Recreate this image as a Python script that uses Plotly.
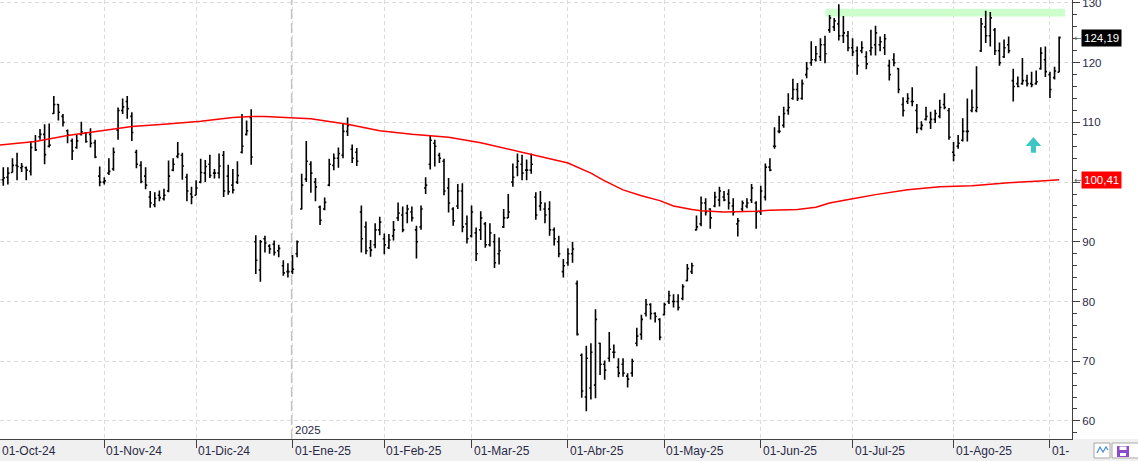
import pandas as pd
import plotly.graph_objects as go

# ---------------- categories: US trading days shown on the chart ----------------
holidays = ['2024-11-28', '2024-12-25', '2025-01-01', '2025-01-09', '2025-01-20',
            '2025-02-17', '2025-04-18', '2025-05-26', '2025-06-19', '2025-07-04', '2025-09-01']
cbd = pd.offsets.CustomBusinessDay(holidays=holidays)
dates = [d.strftime('%Y-%m-%d') for d in pd.date_range('2024-10-01', '2025-09-04', freq=cbd)]

month_starts = ['2024-10-01', '2024-11-01', '2024-12-02', '2025-01-02', '2025-02-03', '2025-03-03',
                '2025-04-01', '2025-05-01', '2025-06-02', '2025-07-01', '2025-08-01', '2025-09-02']
month_labels = ['01-Oct-24', '01-Nov-24', '01-Dic-24', '01-Ene-25', '01-Feb-25', '01-Mar-25',
                '01-Abr-25', '01-May-25', '01-Jun-25', '01-Jul-25', '01-Ago-25', '01-']
year_label = '2025'
year_start = '2025-01-02'

y_ticks = [60, 70, 80, 90, 100, 110, 120, 130]

# ---------------- OHLC values ----------------
opens = [
    101.2, 100.4, 100.8, 101.6, 102.8, 102.4, 102.4, 101.8, 106.8, 107.6,
    108.0, 106.0, 111.5, 113.0, 111.0, 108.6, 106.9, 105.8, 108.0, 108.2,
    108.0, 106.6, 101.0, 100.0, 101.5, 102.2, 108.7, 112.0, 113.5, 111.0,
    105.0, 102.8, 101.0, 97.5, 96.2, 97.8, 97.2, 98.5, 102.0, 104.3,
    104.5, 100.8, 98.0, 97.8, 100.0, 101.5, 103.0, 101.5, 101.5, 104.5,
    101.0, 99.5, 100.0, 105.0, 108.0, 110.8, 90.0, 85.3, 90.5, 89.3,
    89.6, 88.5, 86.0, 85.0, 85.0, 88.0, 95.5, 100.5, 103.0, 100.0,
    95.8, 95.5, 99.5, 102.8, 104.0, 104.5, 108.5, 105.5, 105.0, 95.0,
    92.5, 89.0, 89.5, 92.0, 90.5, 89.0, 91.0, 94.0, 94.5, 94.8,
    95.0, 92.0, 92.5, 99.0, 103.0, 106.5, 104.5, 103.5, 99.0, 95.5,
    96.0, 98.5, 93.0, 91.0, 91.5, 92.0, 93.0, 89.5, 90.0, 88.0,
    92.5, 94.0, 100.0, 102.5, 103.0, 102.0, 102.0, 97.5, 96.0, 95.5,
    95.5, 92.0, 90.0, 85.0, 86.5, 88.0, 83.0, 71.0, 64.0, 65.5,
    66.0, 73.0, 69.5, 70.5, 71.5, 69.0, 69.5, 67.5, 68.0, 73.0,
    74.5, 78.0, 79.5, 78.0, 77.0, 77.8, 80.0, 80.0, 80.0, 80.5,
    83.5, 85.0, 92.0, 93.0, 96.5, 95.5, 96.0, 97.0, 97.5, 98.0,
    96.0, 93.0, 95.5, 96.0, 97.0, 96.5, 95.0, 97.5, 102.5, 106.0,
    108.5, 109.5, 112.0, 114.0, 115.5, 114.0, 118.0, 120.0, 120.5, 121.0,
    123.0, 125.5, 126.0, 126.5, 124.5, 124.5, 122.5, 122.0, 122.0, 121.0,
    122.0, 123.0, 123.0, 122.5, 119.5, 120.5, 119.0, 113.0, 113.5, 113.5,
    112.0, 109.0, 110.5, 110.0, 110.5, 111.0, 113.0, 112.0, 105.0, 106.0,
    107.0, 108.5, 112.0, 112.0, 122.0, 126.0, 124.5, 125.5, 122.0, 121.0,
    123.0, 117.0, 116.5, 116.5, 117.0, 116.5, 116.5, 119.0, 120.5, 118.0,
    117.5, 118.4]
highs = [
    102.0, 102.5, 102.5, 104.0, 104.9, 103.2, 102.6, 106.9, 107.9, 108.9,
    109.7, 109.8, 114.4, 113.1, 111.4, 108.8, 107.3, 107.9, 110.1, 108.4,
    109.0, 107.1, 102.6, 100.8, 104.0, 105.8, 112.5, 114.0, 114.4, 111.7,
    105.4, 103.5, 102.5, 98.5, 98.3, 98.6, 98.9, 103.6, 104.0, 106.7,
    104.9, 101.4, 99.2, 100.3, 103.9, 103.7, 104.6, 102.2, 104.8, 105.2,
    102.9, 102.2, 103.5, 111.4, 110.3, 112.2, 91.1, 90.3, 91.0, 89.6,
    90.2, 89.5, 86.9, 86.4, 87.8, 90.2, 101.4, 106.9, 103.5, 100.7,
    96.1, 97.4, 103.9, 104.8, 105.8, 109.8, 110.8, 106.3, 105.7, 96.1,
    93.4, 90.3, 93.1, 94.2, 91.4, 91.3, 93.5, 96.6, 95.9, 96.2,
    95.9, 92.7, 96.1, 100.8, 107.9, 107.1, 104.9, 103.9, 100.7, 95.8,
    99.7, 99.8, 94.4, 96.1, 92.4, 95.1, 93.3, 93.1, 91.3, 90.7,
    95.5, 98.0, 103.1, 104.8, 104.6, 103.8, 104.8, 98.3, 98.5, 96.6,
    96.8, 92.4, 91.0, 87.1, 88.9, 90.0, 83.5, 71.3, 72.6, 73.0,
    78.7, 73.1, 70.1, 74.9, 72.8, 70.5, 70.5, 68.0, 70.4, 75.6,
    77.8, 80.4, 79.7, 78.2, 77.2, 79.8, 81.8, 81.2, 81.2, 82.9,
    86.3, 86.5, 94.4, 97.6, 97.3, 95.6, 98.4, 99.2, 98.5, 98.8,
    97.3, 94.0, 96.9, 97.3, 99.7, 96.8, 99.4, 103.1, 104.0, 109.2,
    111.1, 112.6, 114.9, 117.3, 116.6, 117.2, 120.1, 123.6, 122.8, 124.1,
    124.5, 128.0, 127.5, 129.8, 127.8, 125.3, 124.1, 122.7, 123.6, 121.9,
    125.5, 126.2, 124.4, 124.8, 120.5, 121.6, 119.1, 114.2, 114.9, 115.9,
    113.1, 110.2, 112.6, 111.8, 112.1, 113.8, 114.9, 112.4, 106.7, 107.9,
    110.7, 114.0, 115.5, 119.4, 127.5, 128.7, 128.5, 125.8, 123.4, 123.9,
    124.4, 119.0, 117.7, 120.8, 118.0, 118.5, 118.7, 122.6, 122.7, 118.5,
    119.3, 124.4]
lows = [
    99.3, 99.4, 99.6, 101.6, 100.3, 101.7, 100.3, 101.1, 105.2, 107.1,
    103.0, 105.8, 111.4, 110.3, 109.3, 106.5, 103.7, 105.6, 107.8, 106.6,
    105.8, 104.0, 99.3, 99.6, 101.2, 101.9, 107.1, 111.4, 110.6, 106.9,
    102.3, 99.8, 98.8, 95.7, 95.8, 96.8, 96.9, 98.3, 101.8, 104.0,
    100.4, 96.8, 96.3, 97.8, 99.8, 100.0, 100.7, 100.6, 100.6, 97.5,
    97.9, 98.1, 99.7, 104.8, 107.8, 102.9, 84.6, 83.3, 88.2, 88.0,
    87.7, 87.4, 84.3, 84.0, 84.6, 87.4, 95.4, 100.0, 98.2, 96.8,
    92.8, 95.3, 99.3, 102.0, 102.4, 104.0, 107.7, 103.2, 102.7, 88.2,
    87.9, 87.5, 88.9, 91.1, 87.9, 88.8, 90.2, 93.5, 91.6, 93.1,
    93.4, 87.2, 92.0, 98.0, 102.1, 102.6, 103.2, 97.8, 94.9, 92.7,
    95.5, 91.6, 89.7, 90.7, 86.8, 90.3, 89.0, 89.2, 85.6, 86.2,
    92.3, 94.0, 99.2, 101.0, 100.3, 100.3, 101.4, 93.7, 95.2, 93.1,
    91.0, 89.4, 87.4, 84.0, 86.0, 86.5, 74.3, 63.9, 61.6, 63.6,
    63.8, 67.7, 66.9, 69.9, 70.5, 67.3, 67.4, 65.6, 67.4, 72.5,
    73.6, 77.5, 77.0, 76.5, 73.5, 77.7, 79.6, 79.0, 78.5, 80.2,
    83.4, 84.6, 91.9, 92.6, 94.4, 92.2, 95.8, 95.9, 96.8, 95.4,
    94.4, 90.9, 95.1, 95.6, 96.5, 92.2, 94.5, 96.9, 101.8, 105.6,
    108.2, 109.1, 111.3, 113.8, 113.6, 113.8, 117.4, 119.5, 120.2, 120.3,
    119.9, 125.0, 125.3, 123.7, 123.3, 121.9, 121.1, 118.0, 121.6, 118.9,
    121.2, 121.2, 121.9, 121.3, 117.0, 119.4, 114.9, 111.0, 113.1, 112.7,
    108.2, 108.7, 110.3, 108.9, 109.9, 110.7, 112.2, 107.1, 103.5, 105.6,
    106.8, 106.8, 111.7, 111.7, 121.8, 123.3, 122.7, 121.3, 119.5, 120.8,
    121.6, 113.5, 115.9, 116.3, 116.0, 115.9, 116.3, 118.8, 117.6, 114.1,
    117.2, 118.4]
closes = [
    100.4, 100.7, 101.5, 102.8, 102.6, 102.6, 102.0, 105.8, 105.4, 108.0,
    104.6, 106.2, 113.0, 111.7, 110.0, 107.9, 105.2, 106.9, 108.4, 106.8,
    106.5, 104.2, 100.0, 100.2, 101.8, 105.0, 112.0, 112.6, 112.3, 108.3,
    103.0, 100.1, 99.5, 96.5, 97.3, 97.4, 97.8, 101.0, 103.0, 104.7,
    102.7, 98.5, 97.5, 99.0, 101.6, 102.6, 101.1, 101.5, 102.7, 98.5,
    98.4, 98.7, 101.1, 106.0, 108.6, 104.2, 86.9, 90.0, 89.8, 88.8,
    88.2, 88.9, 84.8, 85.0, 85.4, 90.0, 99.5, 103.5, 101.5, 99.2,
    93.6, 96.6, 103.0, 104.0, 104.8, 108.5, 109.5, 104.0, 103.5, 90.5,
    88.5, 88.6, 92.0, 93.3, 89.5, 90.3, 92.0, 94.8, 92.0, 95.5,
    94.0, 90.0, 95.5, 99.5, 107.0, 106.0, 104.0, 98.5, 96.5, 93.5,
    98.5, 92.5, 90.5, 95.0, 88.0, 94.0, 89.5, 91.5, 86.5, 88.5,
    94.0, 95.0, 100.8, 103.5, 101.5, 102.0, 103.0, 94.5, 96.5, 94.5,
    92.0, 90.5, 88.0, 86.0, 88.0, 88.8, 74.5, 65.0, 70.5, 71.5,
    77.0, 69.5, 68.5, 72.0, 71.5, 68.0, 68.0, 67.0, 70.0, 74.2,
    77.0, 79.5, 78.0, 77.5, 74.0, 79.5, 81.0, 80.0, 79.0, 82.5,
    85.5, 86.0, 92.5, 96.5, 95.0, 94.0, 97.5, 98.5, 97.0, 96.5,
    95.0, 93.5, 96.5, 96.5, 99.0, 95.0, 98.5, 102.5, 102.0, 106.0,
    108.5, 111.5, 112.5, 115.5, 114.0, 116.5, 119.0, 120.5, 121.5, 123.0,
    121.5, 127.5, 127.0, 124.5, 125.0, 122.5, 121.8, 119.5, 122.5, 119.8,
    122.5, 125.0, 123.5, 124.0, 118.0, 120.0, 115.5, 112.0, 114.0, 113.5,
    109.0, 109.5, 111.0, 110.5, 111.5, 112.5, 112.5, 107.5, 104.5, 106.5,
    108.5, 108.5, 112.5, 112.5, 126.5, 124.5, 127.5, 122.0, 120.0, 122.5,
    122.0, 116.0, 116.0, 117.0, 116.5, 116.3, 116.8, 121.6, 118.5, 115.5,
    118.6, 124.19]

# ---------------- moving average (red line), read at selected bars ----------------
ma_bar = [0, 8, 15, 22, 29, 36, 44, 51, 55, 58, 66, 68, 76, 83, 90, 98, 105, 112, 119, 124,
          129, 132, 136, 140, 144, 147, 151, 153, 158, 162, 165, 168, 174, 178, 181, 186, 191,
          198, 205, 212, 220, 227, 231]
ma_value = [106.2, 106.8, 107.8, 108.6, 109.3, 109.7, 110.2, 110.8, 111.0, 111.0, 110.7, 110.6,
            109.7, 108.6, 108.0, 107.5, 106.6, 105.3, 104.1, 103.2, 101.5, 100.2, 98.7, 97.7,
            96.9, 96.0, 95.4, 95.2, 95.0, 95.0, 95.1, 95.3, 95.4, 95.8, 96.5, 97.2, 97.9, 98.7,
            99.2, 99.4, 99.9, 100.2, 100.41]

# ---------------- annotations / drawings ----------------
band_from = '2025-06-23'
band_low, band_high = 127.75, 129.05
signal_date = '2025-08-26'
signal_tip, signal_base = 107.55, 104.9

assert len(dates) == len(opens) == len(highs) == len(lows) == len(closes) == 232

pos = {d: i for i, d in enumerate(dates)}
x = [pos[d] for d in dates]
x_range = [0.283, 233.8]

FONT = 'Liberation Sans, Arial, sans-serif'
TXT = '#2a2a48'
AX = '#404040'
GRID = '#dcdcdc'

fig = go.Figure()
fig.add_trace(go.Ohlc(
    x=x, open=opens, high=highs, low=lows, close=closes,
    increasing=dict(line=dict(color='black', width=1.6)),
    decreasing=dict(line=dict(color='black', width=1.6)),
    tickwidth=0.35, showlegend=False, hoverinfo='skip'))
fig.add_trace(go.Scatter(
    x=ma_bar, y=ma_value, mode='lines',
    line=dict(color='#ff0000', width=1.5), showlegend=False, hoverinfo='skip'))

shapes = []
W, H, R, B = 1072.0, 439.0, 66, 22
# bottom label strip
shapes.append(dict(type='rect', xref='paper', yref='paper', x0=-0.01, x1=(W + R + 5) / W,
                   y0=-(B + 2) / H, y1=0, fillcolor='#f0f0f0', line=dict(width=0), layer='below'))
# resistance band
shapes.append(dict(type='rect', xref='x', yref='y', x0=pos[band_from] + 0.1, x1=len(dates) + 0.3,
                   y0=band_low, y1=band_high, fillcolor='#ccffcc', line=dict(width=0), layer='between'))
# year separator
shapes.append(dict(type='line', xref='x', yref='paper', x0=pos[year_start] - 0.2, x1=pos[year_start] - 0.2,
                   y0=0, y1=1, line=dict(color='#c4c4c4', width=1.5, dash='10px,4px'), layer='between'))
# up arrow signal
cx = pos[signal_date] + 0.4
head = signal_tip - (signal_tip - signal_base) * 0.57
path = (f'M {cx-1.7},{head} L {cx},{signal_tip} L {cx+1.7},{head} L {cx+0.55},{head} '
        f'L {cx+0.55},{signal_base} L {cx-0.55},{signal_base} L {cx-0.55},{head} Z')
shapes.append(dict(type='path', xref='x', yref='y', path=path, fillcolor='#3ec6c6',
                   line=dict(width=0), layer='above'))


def px(xp):
    return xp / W


def py(yp):
    return (H - yp) / H


# bottom-right buttons
shapes.append(dict(type='rect', xref='paper', yref='paper', x0=px(1094), x1=px(1110), y0=py(458), y1=py(443),
                   fillcolor='white', line=dict(color='#a8a8a8', width=1), layer='above'))
shapes.append(dict(type='rect', xref='paper', yref='paper', x0=px(1112), x1=px(1142), y0=py(458), y1=py(443),
                   fillcolor='white', line=dict(color='#a8a8a8', width=1), layer='above'))
zz = f'M {px(1097)},{py(453)} L {px(1100)},{py(447)} L {px(1103)},{py(452)} L {px(1106)},{py(447)} L {px(1108)},{py(450)}'
shapes.append(dict(type='path', xref='paper', yref='paper', path=zz, line=dict(color='#4a8fd8', width=1.3), layer='above'))
shapes.append(dict(type='rect', xref='paper', yref='paper', x0=px(1117), x1=px(1129), y0=py(457), y1=py(446),
                   fillcolor='#8a4cc8', line=dict(width=0), layer='above'))
shapes.append(dict(type='rect', xref='paper', yref='paper', x0=px(1119.5), x1=px(1126.5), y0=py(450), y1=py(446.5),
                   fillcolor='white', line=dict(width=0), layer='above'))
shapes.append(dict(type='rect', xref='paper', yref='paper', x0=px(1120), x1=px(1126), y0=py(456), y1=py(453),
                   fillcolor='white', line=dict(width=0), layer='above'))

annotations = []
for d, lab in zip(month_starts, month_labels):
    annotations.append(dict(x=max(pos[d], x_range[0]), y=0, xref='x', yref='paper', text=lab, showarrow=False,
                            xanchor='left', yanchor='middle', yshift=-12, xshift=0,
                            font=dict(family=FONT, size=12, color=TXT)))
annotations.append(dict(x=pos[year_start], y=0, xref='x', yref='paper', text=year_label, showarrow=False,
                        xanchor='left', yanchor='middle', yshift=9, font=dict(family=FONT, size=11.5, color=TXT)))


def fmt(v):
    return f'{v:.2f}'.replace('.', ',')


for val, bg in [(closes[-1], 'black'), (ma_value[-1], '#ff0000')]:
    annotations.append(dict(x=1, y=val, xref='paper', yref='y', text='\u2190', showarrow=False,
                            xanchor='left', yanchor='middle', xshift=0,
                            font=dict(family='DejaVu Sans', size=9, color='#606060')))
    annotations.append(dict(x=1, y=val, xref='paper', yref='y', text=fmt(val), showarrow=False,
                            xanchor='left', yanchor='middle', xshift=9, bgcolor=bg, borderpad=2,
                            font=dict(family=FONT, size=11.5, color='white')))

fig.update_layout(
    width=1138, height=461,
    margin=dict(l=0, r=R, t=0, b=B, pad=0, autoexpand=False),
    paper_bgcolor='white', plot_bgcolor='white',
    showlegend=False,
    shapes=shapes, annotations=annotations,
    xaxis=dict(range=x_range, tickmode='array', tickvals=[pos[d] for d in month_starts],
               showticklabels=False, ticks='outside', ticklen=8, tickcolor=AX, tickwidth=1,
               showgrid=True, gridcolor=GRID, griddash='4px,3px', gridwidth=1,
               showline=True, linecolor=AX, linewidth=1, zeroline=False, automargin=False,
               rangeslider=dict(visible=False), fixedrange=True),
    yaxis=dict(side='right', range=[56.97, 130.5], tickmode='array', tickvals=y_ticks,
               ticktext=[str(v) for v in y_ticks], ticklabeloverflow='allow', automargin=False,
               ticks='outside', ticklen=7, tickcolor=AX, tickwidth=1,
               minor=dict(dtick=2, tick0=0, ticks='outside', ticklen=4, tickcolor=AX, showgrid=False),
               showgrid=True, gridcolor=GRID, griddash='4px,3px', gridwidth=1,
               showline=True, linecolor=AX, linewidth=1, zeroline=False,
               tickfont=dict(family=FONT, size=11.5, color=TXT), fixedrange=True),
)

fig.write_html('out.html')
